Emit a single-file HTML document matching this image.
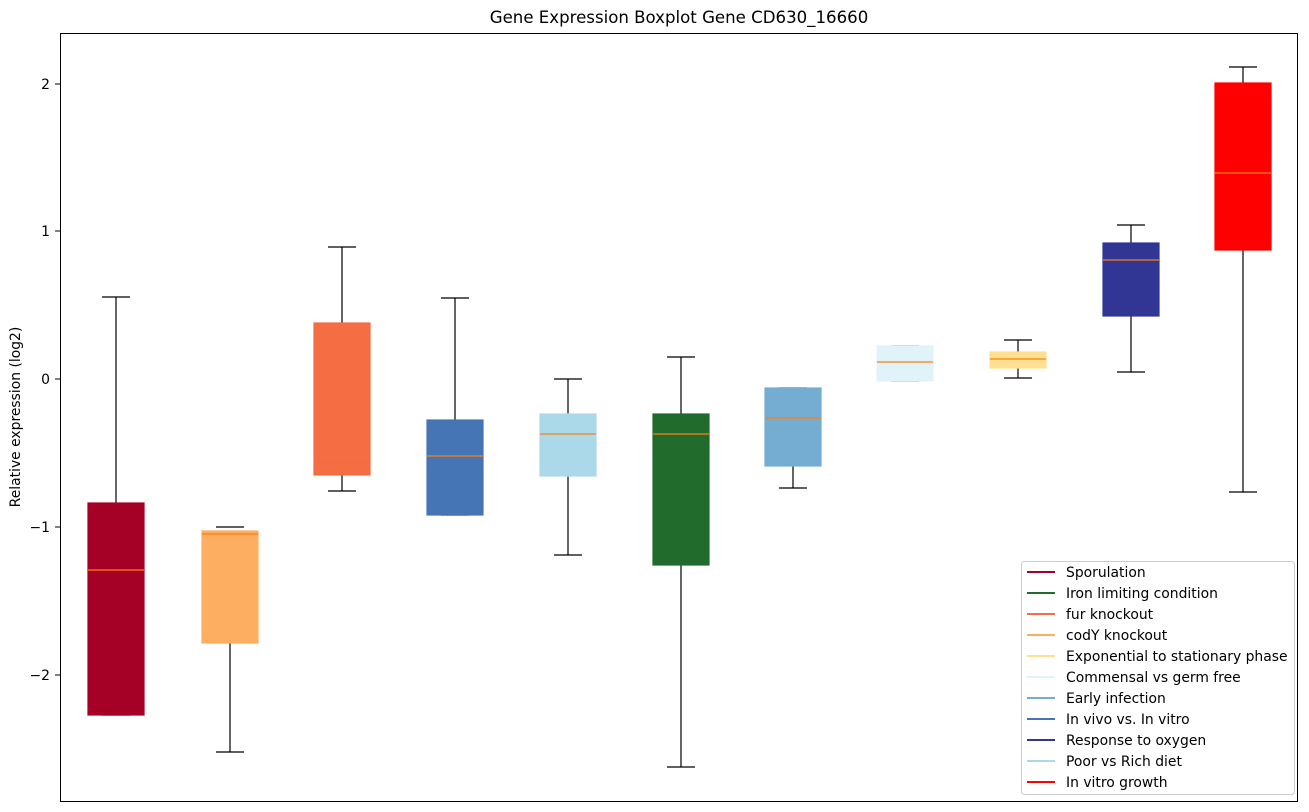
<!DOCTYPE html>
<html><head><meta charset="utf-8"><style>body{margin:0;background:#fff}svg{display:block;font-family:"DejaVu Sans",sans-serif}</style></head><body>
<svg width="1309" height="812" viewBox="0 0 1309 812">
<rect width="1309" height="812" fill="#fff"/>
<text x="679" y="23" font-size="16.6" text-anchor="middle">Gene Expression Boxplot Gene CD630_16660</text>
<g stroke="#000" stroke-width="1" font-size="13.9" text-anchor="end">
<line x1="55" y1="84" x2="60" y2="84"/><text x="50" y="89" stroke="none">2</text>
<line x1="55" y1="231" x2="60" y2="231"/><text x="50" y="236" stroke="none">1</text>
<line x1="55" y1="379" x2="60" y2="379"/><text x="50" y="384" stroke="none">0</text>
<line x1="55" y1="527" x2="60" y2="527"/><text x="50" y="532" stroke="none">−1</text>
<line x1="55" y1="675" x2="60" y2="675"/><text x="50" y="680" stroke="none">−2</text>
</g>
<text transform="translate(20,417) rotate(-90)" font-size="13.9" text-anchor="middle">Relative expression (log2)</text>
<g stroke="#000" stroke-width="1.2">
<line x1="116" y1="297" x2="116" y2="503"/><line x1="102" y1="297" x2="130" y2="297"/><line x1="102" y1="715" x2="130" y2="715"/>
<rect x="88" y="503" width="56" height="212" fill="#a50026" stroke="#a50026"/><line x1="88" y1="570" x2="144" y2="570" stroke="#ff7f0e"/>

<line x1="230" y1="643" x2="230" y2="752"/><line x1="216" y1="527" x2="244" y2="527"/><line x1="216" y1="752" x2="244" y2="752"/>
<rect x="202" y="531" width="56" height="112" fill="#fdae61" stroke="#fdae61"/><line x1="202" y1="534" x2="258" y2="534" stroke="#ff7f0e"/>

<line x1="342" y1="247" x2="342" y2="323"/><line x1="342" y1="475" x2="342" y2="491"/><line x1="328" y1="247" x2="356" y2="247"/><line x1="328" y1="491" x2="356" y2="491"/>
<rect x="314" y="323" width="56" height="152" fill="#f46d43" stroke="#f46d43"/><line x1="314" y1="463" x2="370" y2="463" stroke="#f46d43"/>

<line x1="455" y1="298" x2="455" y2="420"/><line x1="441" y1="298" x2="469" y2="298"/><line x1="441" y1="515" x2="469" y2="515"/>
<rect x="427" y="420" width="56" height="95" fill="#4575b4" stroke="#4575b4"/><line x1="427" y1="456" x2="483" y2="456" stroke="#ff7f0e"/>

<line x1="568" y1="379" x2="568" y2="414"/><line x1="568" y1="476" x2="568" y2="555"/><line x1="554" y1="379" x2="582" y2="379"/><line x1="554" y1="555" x2="582" y2="555"/>
<rect x="540" y="414" width="56" height="62" fill="#abd9e9" stroke="#abd9e9"/><line x1="540" y1="434" x2="596" y2="434" stroke="#ff7f0e"/>

<line x1="681" y1="357" x2="681" y2="414"/><line x1="681" y1="565" x2="681" y2="767"/><line x1="667" y1="357" x2="695" y2="357"/><line x1="667" y1="767" x2="695" y2="767"/>
<rect x="653" y="414" width="56" height="151" fill="#216b2c" stroke="#216b2c"/><line x1="653" y1="434" x2="709" y2="434" stroke="#ff7f0e"/>

<line x1="793" y1="466" x2="793" y2="488"/><line x1="779" y1="388" x2="807" y2="388"/><line x1="779" y1="488" x2="807" y2="488"/>
<rect x="765" y="388" width="56" height="78" fill="#74add1" stroke="#74add1"/><line x1="765" y1="418" x2="821" y2="418" stroke="#ff7f0e"/>

<line x1="891" y1="346" x2="919" y2="346"/><line x1="891" y1="381" x2="919" y2="381"/>
<rect x="877" y="346" width="56" height="35" fill="#e0f3f8" stroke="#e0f3f8"/><line x1="877" y1="362" x2="933" y2="362" stroke="#ff7f0e"/>

<line x1="1018" y1="340" x2="1018" y2="352"/><line x1="1018" y1="368" x2="1018" y2="378"/><line x1="1004" y1="340" x2="1032" y2="340"/><line x1="1004" y1="378" x2="1032" y2="378"/>
<rect x="990" y="352" width="56" height="16" fill="#fee090" stroke="#fee090"/><line x1="990" y1="359" x2="1046" y2="359" stroke="#ff7f0e"/>

<line x1="1131" y1="225" x2="1131" y2="243"/><line x1="1131" y1="316" x2="1131" y2="372"/><line x1="1117" y1="225" x2="1145" y2="225"/><line x1="1117" y1="372" x2="1145" y2="372"/>
<rect x="1103" y="243" width="56" height="73" fill="#313695" stroke="#313695"/><line x1="1103" y1="260" x2="1159" y2="260" stroke="#ff7f0e"/>

<line x1="1243" y1="67" x2="1243" y2="83"/><line x1="1243" y1="250" x2="1243" y2="492"/><line x1="1229" y1="67" x2="1257" y2="67"/><line x1="1229" y1="492" x2="1257" y2="492"/>
<rect x="1215" y="83" width="56" height="167" fill="#ff0000" stroke="#ff0000"/><line x1="1215" y1="173" x2="1271" y2="173" stroke="#ff7f0e"/>
</g>
<rect x="60.5" y="33.5" width="1237" height="768" fill="none" stroke="#000"/>
<rect x="1021.5" y="561.5" width="273" height="233" fill="#fff" fill-opacity="0.8" stroke="#ccc" rx="3"/>
<g font-size="13.9" stroke-width="2">
<line x1="1027" y1="572" x2="1055" y2="572" stroke="#a50026"/><text x="1066" y="577">Sporulation</text>
<line x1="1027" y1="593" x2="1055" y2="593" stroke="#216b2c"/><text x="1066" y="598">Iron limiting condition</text>
<line x1="1027" y1="614" x2="1055" y2="614" stroke="#f46d43"/><text x="1066" y="619">fur knockout</text>
<line x1="1027" y1="635" x2="1055" y2="635" stroke="#fdae61"/><text x="1066" y="640">codY knockout</text>
<line x1="1027" y1="656" x2="1055" y2="656" stroke="#fee090"/><text x="1066" y="661">Exponential to stationary phase</text>
<line x1="1027" y1="677" x2="1055" y2="677" stroke="#e0f3f8"/><text x="1066" y="682">Commensal vs germ free</text>
<line x1="1027" y1="698" x2="1055" y2="698" stroke="#74add1"/><text x="1066" y="703">Early infection</text>
<line x1="1027" y1="719" x2="1055" y2="719" stroke="#4575b4"/><text x="1066" y="724">In vivo vs. In vitro</text>
<line x1="1027" y1="740" x2="1055" y2="740" stroke="#313695"/><text x="1066" y="745">Response to oxygen</text>
<line x1="1027" y1="761" x2="1055" y2="761" stroke="#abd9e9"/><text x="1066" y="766">Poor vs Rich diet</text>
<line x1="1027" y1="782" x2="1055" y2="782" stroke="#ff0000"/><text x="1066" y="787">In vitro growth</text>
</g>
</svg>
</body></html>
